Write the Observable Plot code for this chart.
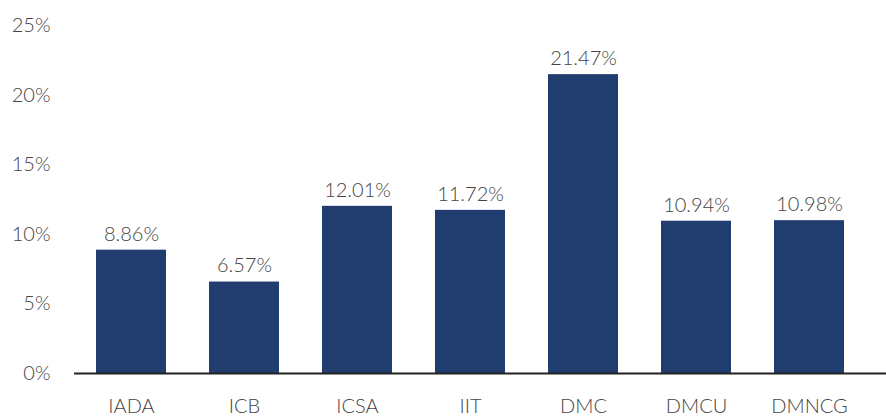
<!DOCTYPE html>
<html>
<head>
<meta charset="utf-8">
<script src="https://cdn.jsdelivr.net/npm/d3@7"></script>
<script src="https://cdn.jsdelivr.net/npm/@observablehq/plot@0.6"></script>
<style>
  html, body { margin: 0; padding: 0; background: #fff; }
  #chart svg { display: block; font-family: Lato, "Open Sans", sans-serif; }
</style>
</head>
<body>
<div id="chart"></div>
<script>
const categories = ["IADA", "ICB", "ICSA", "IIT", "DMC", "DMCU", "DMNCG"];
const values = [8.86, 6.57, 12.01, 11.72, 21.47, 10.94, 10.98];
const yTicks = [0, 5, 10, 15, 20, 25];

const data = categories.map((c, i) => ({ cat: c, v: values[i] }));

const chart = Plot.plot({
  width: 886,
  height: 419,
  marginLeft: 74,
  marginRight: 0,
  marginTop: 25,
  marginBottom: 46,
  style: { fontFamily: "Lato, 'Open Sans', sans-serif", fontSize: "20px", color: "#444", fontWeight: 300 },
  x: { domain: categories, range: [74, 866], paddingInner: 0.38, paddingOuter: 0.19, label: null },
  y: { domain: [0, 25], ticks: yTicks, label: null },
  marks: [
    Plot.barY(data, { x: "cat", y: "v", fill: "#213d70" }),
    Plot.text(data, {
      x: "cat", y: "v", text: d => d.v.toFixed(2) + "%",
      dy: -16, fill: "#444", fontSize: 20, fontWeight: 300
    }),
    Plot.ruleY([0], { stroke: "#222", strokeWidth: 2 }),
    Plot.axisY({ ticks: yTicks, tickSize: 0, tickPadding: 24, tickFormat: d => d + "%", fontSize: 20, fill: "#444", label: null }),
    Plot.axisX({ tickSize: 0, tickPadding: 25, fontSize: 20, fill: "#444", label: null })
  ]
});
document.getElementById("chart").appendChild(chart);
</script>
</body>
</html>
